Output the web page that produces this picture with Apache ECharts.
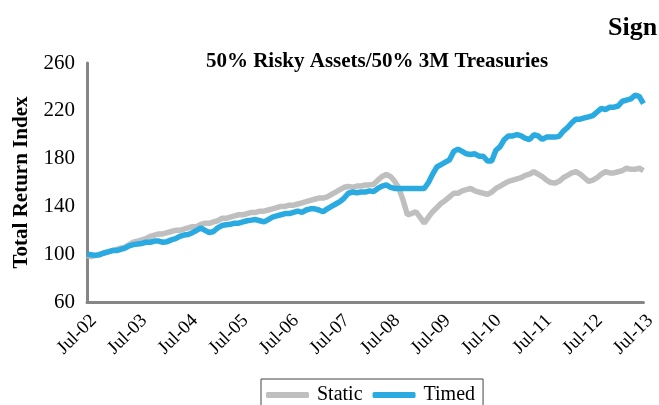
<!DOCTYPE html>
<html>
<head>
    <meta charset="UTF-8">
    <title>ECharts</title>
    <script type="text/javascript" src="https://cdn.jsdelivr.net/npm/echarts@6/dist/echarts.min.js"></script>
    <style>
        body { margin: 0; background: #fff; }
    </style>
</head>
<body>
    <div id="main" style="width: 659px;height:405px;"></div>
    <script type="text/javascript">
        // month labels Jul-02 .. Jul-13
        var monthNames = ['Jan', 'Feb', 'Mar', 'Apr', 'May', 'Jun', 'Jul', 'Aug', 'Sep', 'Oct', 'Nov', 'Dec'];
        var months = [];
        for (var k = 0; k <= 132; k++) {
            var m = (6 + k) % 12;
            var y = 2 + Math.floor((6 + k) / 12);
            months.push(monthNames[m] + '-' + (y < 10 ? '0' + y : '' + y));
        }

        var yTicks = [60, 100, 140, 180, 220, 260];

        var staticData = [
            99, 98, 99, 100, 101, 102, 103, 104, 105, 106, 108, 110, 111,
            112, 113, 115, 116, 117, 117, 118, 119, 120, 120, 121, 122,
            123, 123, 125, 126, 125.8, 127, 128, 130, 130, 131, 132, 133,
            133, 134, 135, 135, 136, 136, 137, 138, 139, 140, 140, 141,
            141, 142, 143, 144, 145, 146, 147, 147, 148, 150, 152, 154,
            156, 156.6, 156, 157, 157, 158, 158, 158.6, 162, 165, 166.7, 165,
            161, 155, 145, 133, 134, 135.6, 131, 126, 131, 135.6, 139, 142.6,
            145, 148, 151, 151, 153, 154, 155, 153, 152, 151, 150, 152,
            155, 157, 159, 161, 162, 163, 164, 166, 167, 169, 167, 165,
            162, 160, 159.5, 161, 164, 166, 168, 169, 167, 164, 161, 162,
            164, 167, 169, 168, 168, 169, 170, 172, 171, 171, 172, 170
        ];

        var timedData = [
            100, 99.5, 99, 99.5, 101, 102, 103, 103, 104, 105, 107, 108, 108.5,
            109, 110, 110, 111, 111, 110, 110.5, 112, 113, 115, 116, 116.5,
            118, 120, 122, 120, 118, 119, 122, 124, 124.7, 125, 126, 126,
            127, 128, 128.5, 129, 128, 127, 129, 131, 132, 133, 134, 134,
            135, 136, 135, 137, 138, 138, 137, 135.5, 138, 140, 142, 144,
            147, 151, 152, 151.5, 152, 152, 153, 152.5, 155, 157, 158, 156,
            155, 155, 155, 155, 155, 155, 155, 155, 160, 167, 173, 175,
            177, 179, 186, 188, 186, 184, 183.5, 184, 182, 182, 178, 178,
            187, 190, 196, 199, 199, 200, 199, 197, 196, 200, 199, 196,
            198, 198, 198, 198.6, 203, 206, 210, 213, 213, 214, 215, 216,
            219, 222, 221, 223, 223, 224, 228, 229, 230, 233, 232, 226
        ];

        var chart = echarts.init(document.getElementById('main'));
        var font = 'Liberation Serif';

        chart.setOption({
            animation: false,
            textStyle: { fontFamily: font },
            title: [{
                text: '50% Risky Assets/50% 3M Treasuries',
                left: 372,
                top: 46,
                textAlign: 'center',
                textStyle: { fontFamily: font, fontSize: 21, fontWeight: 'bold', color: '#000' }
            }, {
                text: 'Sign',
                left: 603,
                top: 10,
                textStyle: { fontFamily: font, fontSize: 26, fontWeight: 'bold', color: '#000' }
            }],
            legend: {
                data: ['Static', 'Timed'],
                left: 261,
                top: 379,
                icon: 'roundRect',
                itemWidth: 43,
                itemHeight: 6,
                itemGap: 10,
                padding: [6, 8, 10, 5],
                borderColor: '#444',
                borderWidth: 1,
                textStyle: { fontFamily: font, fontSize: 20, color: '#000', padding: [0, 0, 0, 3] }
            },
            grid: {
                left: 87,
                right: 2,
                top: 63,
                bottom: 103
            },
            xAxis: {
                type: 'category',
                data: months,
                boundaryGap: false,
                axisLine: { lineStyle: { color: '#868686', width: 3 } },
                axisTick: { show: false },
                axisLabel: {
                    interval: 11,
                    rotate: 45,
                    margin: 9,
                    verticalAlign: 'top',
                    fontFamily: font,
                    fontSize: 19,
                    color: '#000'
                }
            },
            yAxis: {
                type: 'value',
                min: yTicks[0],
                max: yTicks[yTicks.length - 1],
                interval: 40,
                name: 'Total Return Index',
                nameLocation: 'middle',
                nameGap: 55,
                nameTextStyle: { fontFamily: font, fontSize: 21, fontWeight: 'bold', color: '#000' },
                axisLine: { show: true, lineStyle: { color: '#868686', width: 3 } },
                axisTick: { show: false },
                splitLine: { show: false },
                axisLabel: { fontFamily: font, fontSize: 21, color: '#000', margin: 12 }
            },
            series: [{
                name: 'Static',
                type: 'line',
                data: staticData,
                showSymbol: false,
                symbol: 'none',
                itemStyle: { color: '#BFBFBF' },
                lineStyle: { color: '#BFBFBF', width: 5.5 }
            }, {
                name: 'Timed',
                type: 'line',
                data: timedData,
                showSymbol: false,
                symbol: 'none',
                itemStyle: { color: '#29ABE2' },
                lineStyle: { color: '#29ABE2', width: 5.5 }
            }]
        });
    </script>
</body>
</html>
